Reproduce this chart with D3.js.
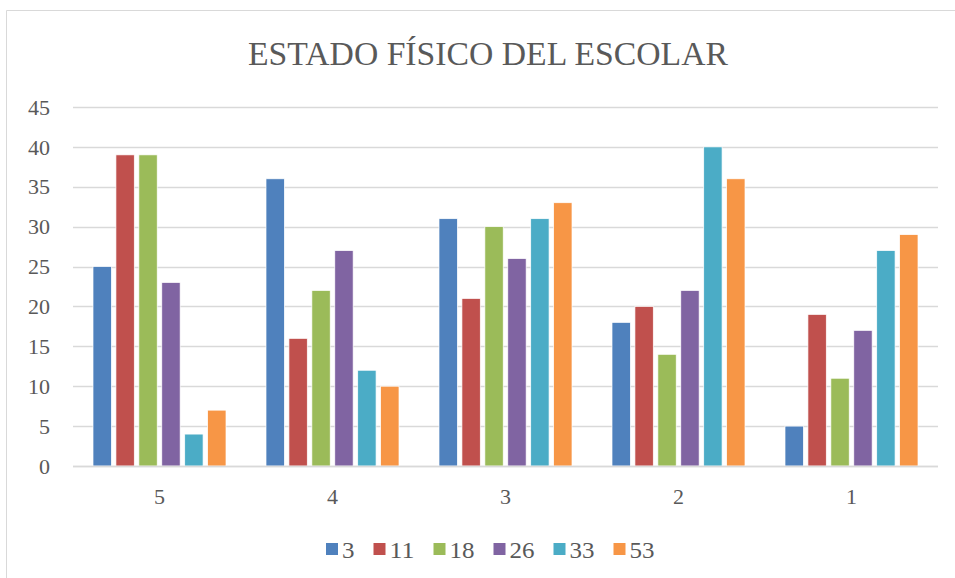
<!DOCTYPE html>
<html>
<head>
<meta charset="utf-8">
<script src="https://cdn.jsdelivr.net/npm/d3@7"></script>
<style>
  body { margin: 0; background: #fff; }
  text { font-family: "Liberation Serif", "DejaVu Serif", serif; fill: #595959; }
</style>
</head>
<body>
<svg id="chart" width="955" height="578"></svg>
<script>
var categories = ["5", "4", "3", "2", "1"];
var seriesNames = ["3", "11", "18", "26", "33", "53"];
var s3  = [25, 36, 31, 18, 5];
var s11 = [39, 16, 21, 20, 19];
var s18 = [39, 22, 30, 14, 11];
var s26 = [23, 27, 26, 22, 17];
var s33 = [4, 12, 31, 40, 27];
var s53 = [7, 10, 33, 36, 29];
var yTicks = [0, 5, 10, 15, 20, 25, 30, 35, 40, 45];

var seriesValues = [s3, s11, s18, s26, s33, s53];
var colors = ["#4F81BD", "#C0504D", "#9BBB59", "#8064A2", "#4BACC6", "#F79646"];

var svg = d3.select("#chart");

var margin = {top: 107, right: 17, bottom: 112, left: 73};
var width = +svg.attr("width") - margin.left - margin.right;
var height = +svg.attr("height") - margin.top - margin.bottom;

// chart frame
svg.append("path")
    .attr("d", "M6.5,578 L6.5,10.5 L955,10.5")
    .style("fill", "none")
    .style("stroke", "#D9D9D9")
    .style("stroke-width", 1);

svg.append("text")
    .attr("x", 488)
    .attr("y", 65)
    .attr("text-anchor", "middle")
    .attr("textLength", 480)
    .attr("lengthAdjust", "spacingAndGlyphs")
    .style("font-size", "34px")
    .text("ESTADO FÍSICO DEL ESCOLAR");

var x0 = d3.scaleBand().domain(categories).range([0, width]).paddingInner(0).paddingOuter(0);
var x1 = d3.scaleBand().domain(d3.range(seriesNames.length))
    .range([20, x0.bandwidth() - 20]).paddingInner(0.2).paddingOuter(0);
var y = d3.scaleLinear().domain([0, 45]).range([height, 0]);

var g = svg.append("g")
    .attr("transform", "translate(" + margin.left + "," + margin.top + ")");

// gridlines
g.selectAll("line.grid")
    .data(yTicks)
    .enter().append("line")
    .attr("class", "grid")
    .attr("x1", 0)
    .attr("x2", width)
    .attr("y1", function(d) { return Math.round(y(d)) + 0.5; })
    .attr("y2", function(d) { return Math.round(y(d)) + 0.5; })
    .style("stroke", "#D9D9D9")
    .style("stroke-width", 1.3);

// y tick labels
g.selectAll("text.ytick")
    .data(yTicks)
    .enter().append("text")
    .attr("class", "ytick")
    .attr("x", -23)
    .attr("y", function(d) { return y(d); })
    .attr("dy", "0.35em")
    .attr("text-anchor", "end")
    .style("font-size", "22px")
    .text(function(d) { return d; });

// bars
for (var i = 0; i < seriesNames.length; i++) {
    let vals = seriesValues[i];
    let color = colors[i];
    let idx = i;
    g.selectAll("rect.s" + i)
        .data(vals)
        .enter().append("rect")
        .attr("class", "s" + i)
        .attr("x", function(d, j) { return x0(categories[j]) + x1(idx); })
        .attr("y", function(d) { return y(d); })
        .attr("width", x1.bandwidth())
        .attr("height", function(d) { return height - y(d); })
        .style("fill", color)
        .style("stroke", "#fff")
        .style("stroke-width", 0.7);
}

// x axis line
g.append("line")
    .attr("x1", 0)
    .attr("x2", width)
    .attr("y1", height + 0.5)
    .attr("y2", height + 0.5)
    .style("stroke", "#D9D9D9")
    .style("stroke-width", 1.5);

// x labels
g.selectAll("text.xtick")
    .data(categories)
    .enter().append("text")
    .attr("class", "xtick")
    .attr("x", function(d) { return x0(d) + x0.bandwidth() / 2; })
    .attr("y", height + 38)
    .attr("text-anchor", "middle")
    .style("font-size", "22px")
    .text(function(d) { return d; });

// legend
var legend = svg.append("g").attr("class", "legend");
var lx = 326;
for (var k = 0; k < seriesNames.length; k++) {
    var item = legend.append("g").attr("transform", "translate(" + lx + ",0)");
    item.append("rect")
        .attr("x", 0)
        .attr("y", 543)
        .attr("width", 12)
        .attr("height", 12)
        .style("fill", colors[k]);
    var len = seriesNames[k].length;
    item.append("text")
        .attr("x", 16)
        .attr("y", 558)
        .attr("textLength", 12.5 * len)
        .attr("lengthAdjust", "spacingAndGlyphs")
        .style("font-size", "24px")
        .text(seriesNames[k]);
    lx += 16 + 12.5 * len + 19;
}
</script>
</body>
</html>
